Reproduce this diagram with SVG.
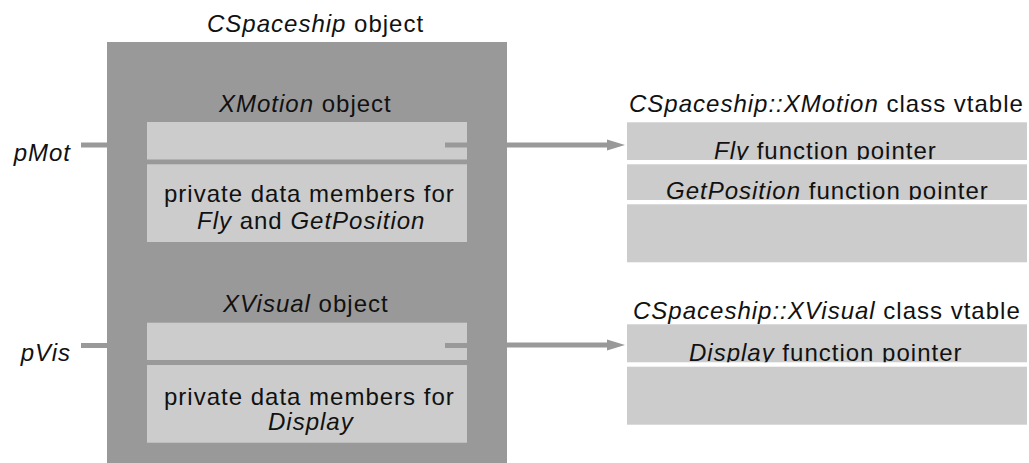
<svg xmlns="http://www.w3.org/2000/svg" width="1029" height="463" viewBox="0 0 1029 463">
  <style>
    text { font-family: "Liberation Sans", Arial, sans-serif; font-size: 24px; letter-spacing: 1px; fill: #111; }
    .i { font-style: italic; }
    .dark { fill: #999999; }
    .light { fill: #cccccc; }
    .gap { fill: #ffffff; }
    .wire { stroke: #999999; stroke-width: 5; fill: none; }
  </style>
  <defs>
    <marker id="arrow" markerUnits="userSpaceOnUse" markerWidth="18" markerHeight="12" viewBox="0 0 18 12" refX="0" refY="6" orient="auto">
      <path d="M0,0.5 L18,6 L0,11.5 Z" fill="#999999"/>
    </marker>
  </defs>
  <rect width="1029" height="463" fill="#ffffff"/>

  <g id="cspaceship">
    <rect class="dark" x="107" y="42" width="400" height="421"/>
    <text x="207" y="32"><tspan class="i">CSpaceship</tspan> object</text>
  </g>

  <g id="xmotion">
    <text x="219" y="112"><tspan class="i">XMotion</tspan> object</text>
    <rect class="light" x="147" y="122" width="320" height="37.5"/>
    <rect class="light" x="147" y="164.3" width="320" height="77.7"/>
    <text x="164" y="202">private data members for</text>
    <text x="197" y="229"><tspan class="i">Fly</tspan> and <tspan class="i">GetPosition</tspan></text>
  </g>

  <g id="xvisual">
    <text x="223" y="312"><tspan class="i">XVisual</tspan> object</text>
    <rect class="light" x="147" y="322.7" width="320" height="37.3"/>
    <rect class="light" x="147" y="365" width="320" height="77.7"/>
    <text x="164" y="405">private data members for</text>
    <text x="268" y="430" class="i">Display</text>
  </g>

  <g id="pMot">
    <text x="71" y="161" class="i" text-anchor="end">pMot</text>
  </g>
  <g id="pVis">
    <text x="71" y="361" class="i" text-anchor="end">pVis</text>
  </g>

  <g id="vtable-xmotion">
    <text x="629" y="112"><tspan class="i">CSpaceship::XMotion</tspan> class vtable</text>
    <rect class="light" x="627" y="122.3" width="400" height="140"/>
    <text x="714" y="159"><tspan class="i">Fly</tspan> function pointer</text>
    <text x="666" y="199"><tspan class="i">GetPosition</tspan> function pointer</text>
    <rect class="gap" x="627" y="160" width="402" height="4.3"/>
    <rect class="gap" x="627" y="200" width="402" height="4.3"/>
  </g>

  <g id="vtable-xvisual">
    <text x="633" y="319"><tspan class="i">CSpaceship::XVisual</tspan> class vtable</text>
    <rect class="light" x="627" y="324.3" width="400" height="100.4"/>
    <text x="689" y="361"><tspan class="i">Display</tspan> function pointer</text>
    <rect class="gap" x="627" y="362.3" width="402" height="4.4"/>
  </g>

  <g id="connectors">
    <line class="wire" x1="81" y1="145" x2="107" y2="145"/>
    <line class="wire" x1="81" y1="345.5" x2="107" y2="345.5"/>
    <line class="wire" x1="445" y1="145" x2="507" y2="145"/>
    <line class="wire" x1="445" y1="345.5" x2="507" y2="345.5"/>
    <line class="wire" x1="507" y1="145" x2="607" y2="145" marker-end="url(#arrow)"/>
    <line class="wire" x1="507" y1="345" x2="607" y2="345" marker-end="url(#arrow)"/>
  </g>
</svg>
